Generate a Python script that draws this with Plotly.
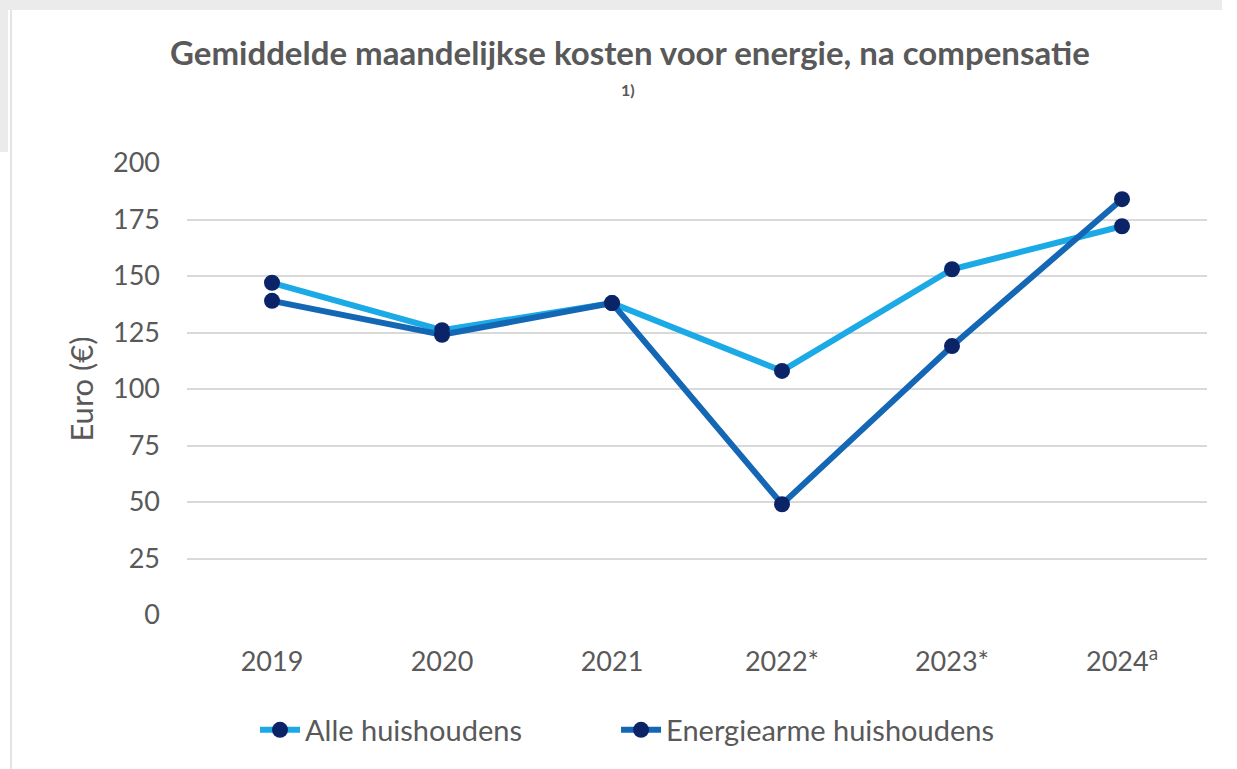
import plotly.graph_objects as go

categories = ["2019", "2020", "2021", "2022*", "2023*", "2024<sup>a</sup>"]
alle = [147, 126, 138, 108, 153, 172]
energiearme = [139, 124, 138, 49, 119, 184]
y_ticks = [0, 25, 50, 75, 100, 125, 150, 175, 200]
series_names = ["Alle huishoudens", "Energiearme huishoudens"]

W, H = 1237, 769
L, R, T, B = 187, 30, 163, 154
pw = W - L - R
ph = H - T - B

def px(x):
    return (x - L) / pw

def py(y):
    return (H - B - y) / ph

FONT = "Lato, 'Open Sans', sans-serif"
MARK = "#0B2467"
TXT = "#595959"
PAD = "\u00a0" * 12

fig = go.Figure()
fig.add_trace(go.Scatter(
    x=list(range(len(categories))), y=alle, name=series_names[0] + PAD,
    mode="lines+markers",
    line=dict(color="#1BAAE6", width=6),
    marker=dict(color=MARK, size=16),
))
fig.add_trace(go.Scatter(
    x=list(range(len(categories))), y=energiearme, name=series_names[1],
    mode="lines+markers",
    line=dict(color="#1467B5", width=6),
    marker=dict(color=MARK, size=16),
))

shapes = [
    dict(type="rect", xref="paper", yref="paper", x0=px(0), x1=px(1222), y0=py(0), y1=py(10),
         fillcolor="#EBEBEB", line=dict(width=0), layer="below"),
    dict(type="rect", xref="paper", yref="paper", x0=px(0), x1=px(8), y0=py(0), y1=py(152),
         fillcolor="#EBEBEB", line=dict(width=0), layer="below"),
    dict(type="line", xref="paper", yref="paper", x0=px(11), x1=px(11), y0=py(10), y1=py(769),
         line=dict(color="#E4E4E4", width=2), layer="below"),
]

fig.update_layout(
    width=W, height=H,
    margin=dict(l=L, r=R, t=T, b=B),
    paper_bgcolor="white", plot_bgcolor="white",
    font=dict(family=FONT, color=TXT, size=26),
    shapes=shapes,
    showlegend=True,
    legend=dict(orientation="h", x=px(255), xanchor="left", y=py(730), yanchor="middle",
                font=dict(size=29, color=TXT), itemwidth=40, tracegroupgap=0),
    annotations=[
        dict(text="<b>Gemiddelde maandelijkse kosten voor energie, na compensatie</b>",
             xref="paper", yref="paper", x=px(630), y=py(52), xanchor="center", yanchor="middle",
             showarrow=False, font=dict(size=33, color=TXT, family=FONT)),
        dict(text="<b>1)</b>",
             xref="paper", yref="paper", x=px(628), y=py(90), xanchor="center", yanchor="middle",
             showarrow=False, font=dict(size=16, color=TXT, family=FONT)),
    ],
)
fig.update_xaxes(
    tickmode="array", tickvals=list(range(len(categories))), ticktext=categories,
    range=[-0.5, len(categories) - 0.5], showgrid=False, zeroline=False, showline=False,
    ticks="", ticklabelstandoff=28, tickfont=dict(size=27, color=TXT),
)
fig.update_yaxes(
    range=[0, 200], tickvals=y_ticks, showgrid=True, gridcolor="#D9D9D9", gridwidth=1.5,
    zeroline=False, showline=False, ticks="", ticklabelstandoff=26,
    tickfont=dict(size=27, color=TXT),
    title=dict(text="Euro (€)", font=dict(size=31, color=TXT), standoff=10),
)

fig.write_html(
    "out.html",
    config={"displayModeBar": False},
    post_script="document.body.style.margin='0';document.body.style.overflow='hidden';",
)
